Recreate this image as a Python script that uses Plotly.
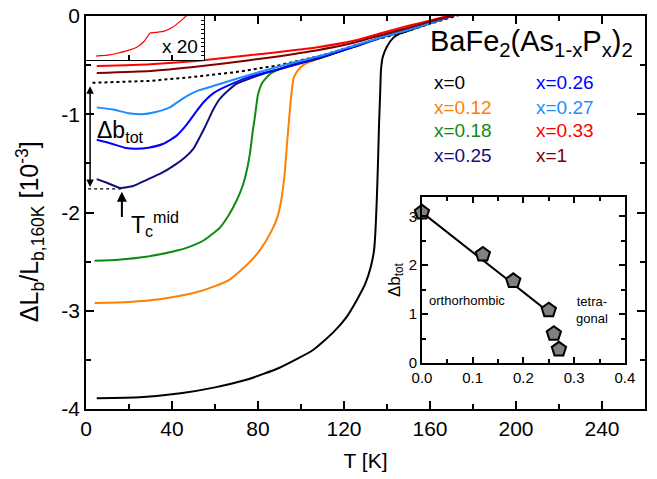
import plotly.graph_objects as go

# ---------------- data ----------------
T_x0 = [5, 25, 44, 60, 75, 90, 105.6, 115, 121, 126, 130, 132.5, 134, 134.6, 135.2, 135.8, 136.3, 136.8, 137.2, 138, 140, 143, 146, 150, 155, 170, 180]
L_x0 = [-3.89, -3.88, -3.84, -3.78, -3.70, -3.58, -3.40, -3.22, -3.07, -2.89, -2.72, -2.55, -2.38, -2.20, -1.90, -1.50, -1.10, -0.80, -0.55, -0.42, -0.31, -0.22, -0.18, -0.15, -0.11, 0.0, 0.06]
T_x012 = [4, 20, 35, 50, 60, 67, 75, 81, 86, 89, 91, 92.5, 93.5, 94.5, 95.5, 96.5, 98, 101, 105, 110, 125, 140, 155, 170, 180]
L_x012 = [-2.92, -2.91, -2.88, -2.82, -2.75, -2.68, -2.53, -2.38, -2.20, -2.05, -1.85, -1.58, -1.30, -1.04, -0.80, -0.64, -0.57, -0.50, -0.46, -0.42, -0.31, -0.20, -0.11, 0.0, 0.06]
T_x018 = [4, 15, 28, 40, 48, 55, 62, 66, 70, 73, 75, 76.5, 77.5, 78.6, 80, 82, 85.6, 90, 96, 103, 110, 125, 140, 155, 170, 180]
L_x018 = [-2.49, -2.48, -2.45, -2.40, -2.35, -2.28, -2.16, -2.04, -1.88, -1.72, -1.55, -1.36, -1.18, -1.02, -0.80, -0.68, -0.59, -0.54, -0.49, -0.46, -0.42, -0.31, -0.20, -0.11, 0.0, 0.06]
T_x025 = [5, 10, 16, 22, 28, 35, 41, 46, 50, 53, 56, 59, 62, 66, 70, 77, 85, 95, 110, 125, 140, 155, 170, 180]
L_x025 = [-1.66, -1.70, -1.75, -1.73, -1.67, -1.60, -1.52, -1.44, -1.35, -1.23, -1.10, -0.96, -0.85, -0.76, -0.69, -0.63, -0.57, -0.51, -0.42, -0.31, -0.20, -0.11, 0.0, 0.06]
T_x026 = [5, 12, 18, 23, 29, 36, 42, 47, 51, 55, 59, 63, 70, 76, 90, 110, 125, 140, 155, 170, 180]
L_x026 = [-1.26, -1.30, -1.34, -1.35, -1.34, -1.30, -1.22, -1.10, -0.98, -0.87, -0.79, -0.74, -0.67, -0.62, -0.54, -0.41, -0.31, -0.20, -0.11, 0.0, 0.06]
T_x027 = [5, 12, 20, 26, 32, 39, 45, 52, 61, 76, 92, 110, 125, 140, 155, 170, 180]
L_x027 = [-0.93, -0.95, -0.99, -1.00, -0.98, -0.93, -0.84, -0.76, -0.70, -0.60, -0.50, -0.40, -0.30, -0.20, -0.11, 0.0, 0.06]
T_x033 = [5, 30, 50, 76, 107, 125, 138, 150, 161, 170, 180]
L_x033 = [-0.51, -0.49, -0.46, -0.40, -0.32, -0.25, -0.17, -0.10, -0.04, 0.01, 0.07]
T_x1 = [5, 30, 50, 76, 107, 125, 138, 150, 161, 170, 180]
L_x1 = [-0.58, -0.56, -0.52, -0.45, -0.35, -0.27, -0.19, -0.12, -0.05, 0.0, 0.06]

# dashed background line and reference level at Tc
T_bg = [3, 30, 50, 70, 90, 110, 125, 140, 150, 160, 170, 178]
L_bg = [-0.68, -0.66, -0.62, -0.57, -0.50, -0.40, -0.30, -0.21, -0.15, -0.08, -0.01, 0.04]
T_ref = [1, 17]
L_ref = [-1.76, -1.76]

# small "x 20" inset (x = 0.33 curve magnified)
T_mag = [4.7, 10, 15, 20.5, 24, 27, 29.8, 33, 36, 40.5, 45, 47]
L_mag = [0.09, 0.11, 0.16, 0.23, 0.30, 0.42, 0.61, 0.63, 0.65, 0.75, 0.93, 1.02]

# lower-right inset: total step Delta b_tot versus x
x_dop = [0.0, 0.12, 0.18, 0.25, 0.26, 0.27]
db_tot = [3.08, 2.22, 1.68, 1.08, 0.60, 0.28]
x_fit = [0.0, 0.255]
db_fit = [3.08, 1.0]

series = [
    ("x=0", T_x0, L_x0, "#000000"),
    ("x=0.12", T_x012, L_x012, "#FF8000"),
    ("x=0.18", T_x018, L_x018, "#108A10"),
    ("x=0.25", T_x025, L_x025, "#10107A"),
    ("x=0.26", T_x026, L_x026, "#0000FF"),
    ("x=0.27", T_x027, L_x027, "#1E8CFF"),
    ("x=0.33", T_x033, L_x033, "#FF0000"),
    ("x=1", T_x1, L_x1, "#800000"),
]

main_xticks = [0, 40, 80, 120, 160, 200, 240]
main_yticks = [0, -1, -2, -3, -4]
main_yticktext = ["0", "-1", "-2", "-3", "-4"]

FONT = "Liberation Sans, Arial, sans-serif"
X_RANGE = [0, 260]
Y_RANGE = [-4, 0]
X2_RANGE = [0, 0.4]
Y2_RANGE = [0, 3.39]

fig = go.Figure()
fig.add_trace(go.Scatter(x=T_bg, y=L_bg, mode="lines",
                         line=dict(color="black", width=2, dash="3px,3px"),
                         showlegend=False, xaxis="x", yaxis="y"))
fig.add_trace(go.Scatter(x=T_ref, y=L_ref, mode="lines",
                         line=dict(color="black", width=1.2, dash="3px,3px"),
                         showlegend=False, xaxis="x", yaxis="y"))
for name, tt, ll, col in series:
    fig.add_trace(go.Scatter(x=tt, y=ll, mode="lines", name=name,
                             line=dict(color=col, width=2, shape="spline", smoothing=0.5),
                             showlegend=False, xaxis="x", yaxis="y"))
fig.add_trace(go.Scatter(x=T_mag, y=L_mag, mode="lines",
                         line=dict(color="#FF0000", width=1.2, shape="spline", smoothing=0.5),
                         showlegend=False, xaxis="x3", yaxis="y3"))
fig.add_trace(go.Scatter(x=x_fit, y=db_fit, mode="lines",
                         line=dict(color="black", width=2),
                         showlegend=False, xaxis="x2", yaxis="y2"))
fig.add_trace(go.Scatter(x=x_dop, y=db_tot, mode="markers", cliponaxis=False,
                         marker=dict(symbol="pentagon", size=15, color="#808080",
                                     line=dict(color="black", width=2)),
                         showlegend=False, xaxis="x2", yaxis="y2"))
# empty traces so that the minor-tick overlay axes get drawn
for xa, ya in [("x4", "y"), ("x", "y4"), ("x5", "y2"), ("x2", "y5")]:
    fig.add_trace(go.Scatter(x=[], y=[], mode="lines", showlegend=False,
                             hoverinfo="skip", xaxis=xa, yaxis=ya))

major = dict(showline=True, linecolor="black", linewidth=1.5, mirror="ticks",
             ticks="inside", tickcolor="#000000", tickwidth=2,
             showgrid=False, zeroline=False)
minor_ax = dict(showline=False, mirror="ticks", ticks="inside", tickcolor="#000000",
                tickwidth=2, showticklabels=False, showgrid=False, zeroline=False,
                fixedrange=True)

fig.update_layout(
    width=657, height=479,
    margin=dict(l=86, r=12, t=16, b=70, autoexpand=False),
    paper_bgcolor="white", plot_bgcolor="white",
    font=dict(family=FONT, color="black"),
    xaxis=dict(**major, range=X_RANGE, tickmode="array", tickvals=main_xticks, ticklen=8,
               tickfont=dict(size=21),
               title=dict(text="T [K]", font=dict(size=21), standoff=14),
               domain=[0, 1], anchor="y"),
    yaxis=dict(**major, range=Y_RANGE, tickmode="array", tickvals=main_yticks,
               ticktext=main_yticktext, ticklen=8, tickfont=dict(size=21),
               automargin=False, domain=[0, 1], anchor="x"),
    xaxis4=dict(**minor_ax, range=X_RANGE, dtick=20, tick0=0, ticklen=5,
                overlaying="x", anchor="y", side="bottom"),
    yaxis4=dict(**minor_ax, range=Y_RANGE, dtick=0.5, tick0=0, ticklen=5,
                overlaying="y", anchor="x", side="left"),
    xaxis2=dict(**major, range=X2_RANGE, dtick=0.1, tickformat=".1f", ticklen=6,
                tickfont=dict(size=15),
                domain=[0.601, 0.964], anchor="y2"),
    yaxis2=dict(**major, range=Y2_RANGE, dtick=1, ticklen=6,
                tickfont=dict(size=15),
                title=dict(text="Δb<sub>tot</sub>", font=dict(size=17), standoff=4),
                domain=[0.117, 0.539], anchor="x2"),
    xaxis5=dict(**minor_ax, range=X2_RANGE, dtick=0.05, tick0=0, ticklen=4,
                overlaying="x2", anchor="y2", side="bottom"),
    yaxis5=dict(**minor_ax, range=Y2_RANGE, dtick=0.5, tick0=0, ticklen=4,
                overlaying="y2", anchor="x2", side="left"),
    xaxis3=dict(showline=True, linecolor="black", linewidth=1.2, mirror=True,
                ticks="inside", ticklen=5, tickwidth=2, tickcolor="#000000", dtick=20, tick0=0,
                showticklabels=False, showgrid=False, zeroline=False,
                range=[0, 54.9], domain=[0, 0.211], anchor="y3"),
    yaxis3=dict(showline=True, linecolor="black", linewidth=1.2, mirror=True, side="right",
                ticks="inside", ticklen=3, tickwidth=1, tickcolor="#000000", dtick=0.1,
                showticklabels=False, showgrid=False, zeroline=False,
                range=[0, 1], domain=[0.888, 1.0], anchor="x3"),
)

ann = []
ann.append(dict(x=0, y=0.45, xref="paper", yref="paper", xshift=-56, textangle=-90,
                xanchor="center", yanchor="middle", showarrow=False,
                text="ΔL<sub>b</sub>/L<sub>b,160K</sub> [10<sup>-3</sup>]", font=dict(size=25)))
ann.append(dict(x=0.2, y=-0.56, xref="x2", yref="y2", xanchor="center", yanchor="middle",
                text="x", showarrow=False, font=dict(size=19)))
ann.append(dict(x=159, y=-0.27, xref="x", yref="y", xanchor="left", yanchor="middle",
                text="BaFe<sub>2</sub>(As<sub>1-x</sub>P<sub>x</sub>)<sub>2</sub>",
                showarrow=False, font=dict(size=29)))
leg_pos = [(161, -0.68), (161, -0.93), (161, -1.17), (161, -1.42),
           (208.4, -0.68), (208.4, -0.93), (208.4, -1.17), (208.4, -1.42)]
for (name, tt, ll, col), (lx, ly) in zip(series, leg_pos):
    ann.append(dict(x=lx, y=ly, xref="x", yref="y", xanchor="left", yanchor="middle",
                    text=name, showarrow=False, font=dict(size=19, color=col)))
ann.append(dict(x=43.7, y=-0.31, xref="x", yref="y", xanchor="center", yanchor="middle",
                text="x 20", showarrow=False, font=dict(size=19)))
ann.append(dict(x=1.9, y=-1.74, ax=1.9, ay=-0.70, xref="x", yref="y", axref="x", ayref="y",
                text="", showarrow=True, arrowhead=2, arrowside="end+start",
                arrowsize=1, arrowwidth=1.5, arrowcolor="black"))
ann.append(dict(x=4.0, y=-1.18, xref="x", yref="y", xanchor="left", yanchor="middle",
                text="Δb<sub>tot</sub>", showarrow=False, font=dict(size=23)))
ann.append(dict(x=16.7, y=-1.79, ax=16.7, ay=-2.06, xref="x", yref="y", axref="x", ayref="y",
                text="", showarrow=True, arrowhead=2, arrowsize=1, arrowwidth=2, arrowcolor="black"))
ann.append(dict(x=20.0, y=-2.12, xref="x", yref="y", xanchor="left", yanchor="middle",
                text="T<sub>c</sub><sup>mid</sup>", showarrow=False, font=dict(size=23)))
ann.append(dict(x=0.01, y=1.27, xref="x2", yref="y2", xanchor="left", yanchor="middle",
                text="orthorhombic", showarrow=False, font=dict(size=13)))
ann.append(dict(x=0.335, y=1.08, xref="x2", yref="y2", xanchor="center", yanchor="middle",
                text="tetra-<br>gonal", showarrow=False, font=dict(size=13)))
fig.update_layout(annotations=ann)

fig.write_html("out.html")
